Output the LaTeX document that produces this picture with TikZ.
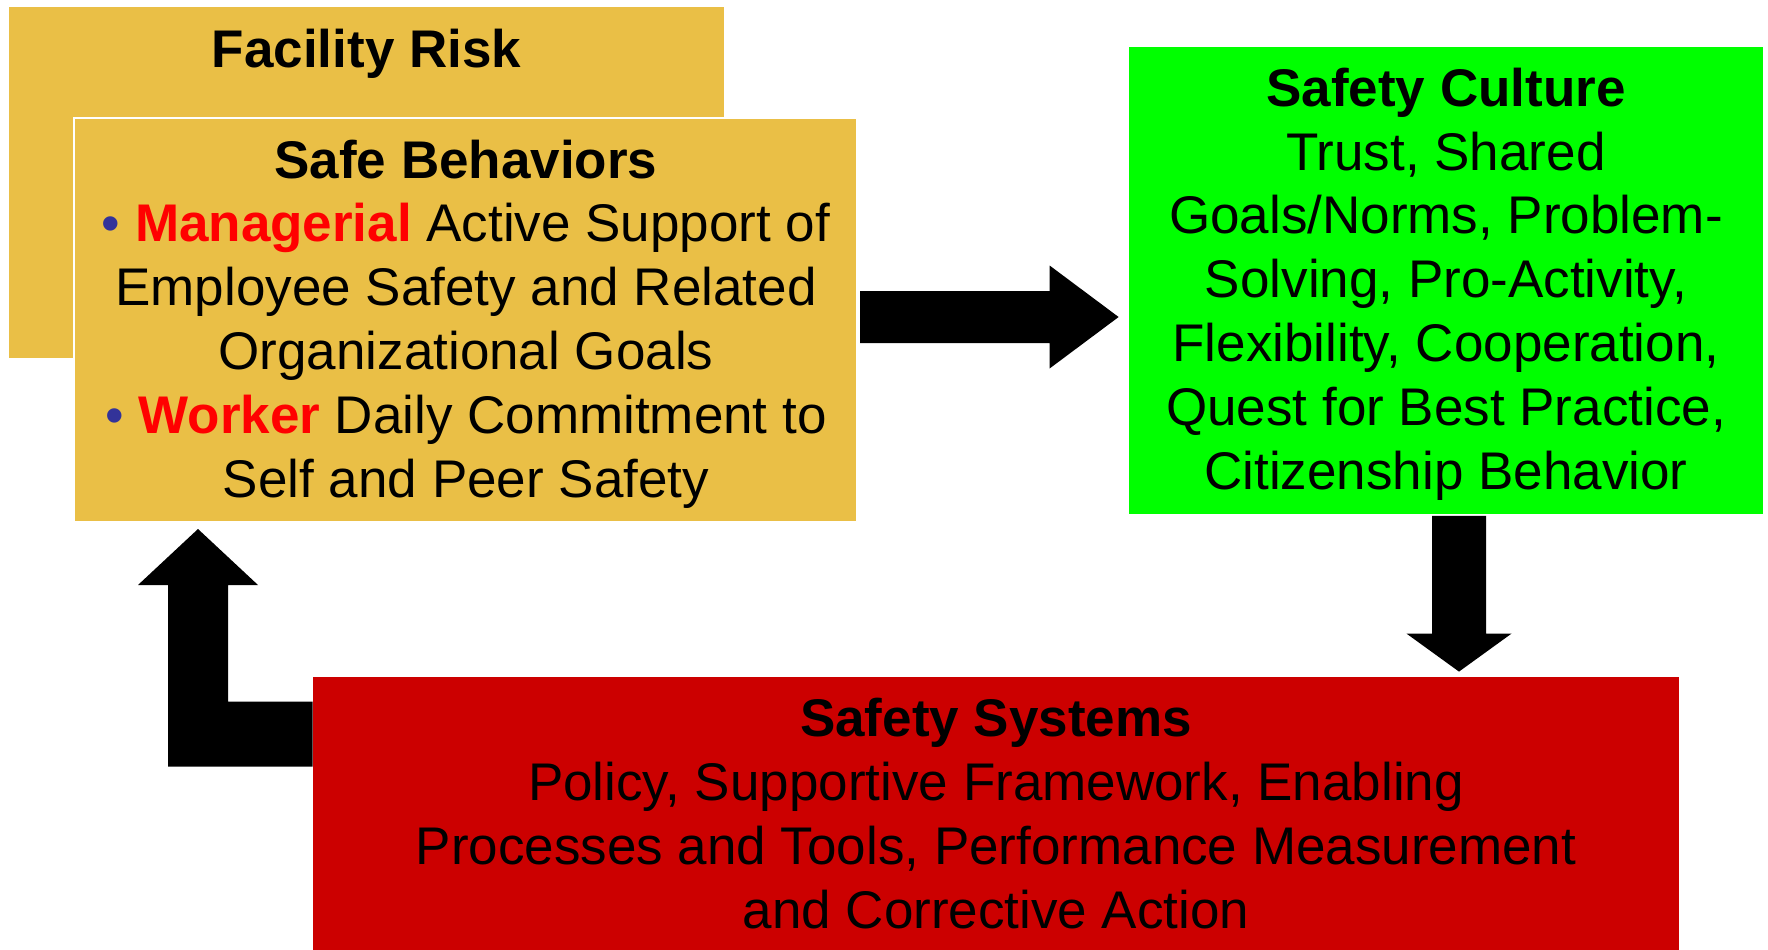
\documentclass[tikz,border=0pt]{standalone}
\usepackage{fontspec}
\setmainfont{Liberation Sans}
\usetikzlibrary{calc}
\definecolor{gold}{HTML}{EABF46}
\definecolor{brightgreen}{HTML}{00FF00}
\definecolor{darkred}{HTML}{CC0000}
\definecolor{bulletblue}{HTML}{333399}
\definecolor{keyred}{HTML}{FF0000}
\tikzset{
  box/.style={rectangle, inner sep=0pt, draw=none},
  txt/.style={font=\fontsize{26.5pt}{31.9pt}\selectfont, align=center, inner sep=0pt, text=black, anchor=base},
  blockarrow/.style={fill=black, draw=none},
}
\newcommand{\bul}{\textcolor{bulletblue}{•}}
\newcommand{\key}[1]{\textcolor{keyred}{\bfseries #1}}
\begin{document}
\begin{tikzpicture}[x=0.5pt, y=-0.5pt]
\useasboundingbox (0,0) rectangle (1768,949);
% boxes
\node[box, fill=gold, minimum width=357.5pt, minimum height=175.5pt] (facility) at (366.5,182.5) {};
\node[box, fill=gold, draw=white, line width=1pt, minimum width=391.5pt, minimum height=202pt] (safe) at (465.5,320) {};
\node[box, fill=brightgreen, minimum width=317pt, minimum height=233.5pt] (culture) at (1446,280) {};
\node[box, fill=darkred, minimum width=683pt, minimum height=138pt] (systems) at (996,815) {};
% texts (anchor = baseline of the last line)
\node[txt] (facilitytext) at (366.5,67) {\bfseries Facility Risk};
\node[txt] (safetext) at (466,497) {\bfseries Safe Behaviors\\
  \bul\ \key{Managerial} Active Support of\\
  Employee Safety and Related\\
  Organizational Goals\\
  \bul\ \key{Worker} Daily Commitment to\\
  Self and Peer Safety};
\node[txt] (culturetext) at (1446,489) {\bfseries Safety Culture\\
  Trust, Shared\\
  Goals/Norms, Problem-\\
  Solving, Pro-Activity,\\
  Flexibility, Cooperation,\\
  Quest for Best Practice,\\
  Citizenship Behavior};
\node[txt] (systemstext) at (996,928) {\bfseries Safety Systems\\
  Policy, Supportive Framework, Enabling\\
  Processes and Tools, Performance Measurement\\
  and Corrective Action};
% right arrow: safe -> culture
\coordinate (ra0) at ($(safe.east)+(1pt,1.5pt)$);
\coordinate (ra1) at ($(ra0 -| culture.west)+(-5pt,0pt)$);
\fill[blockarrow] ($(ra0)+(0pt,13pt)$) -- ($(ra1)+(-34.5pt,13pt)$) -- ($(ra1)+(-34.5pt,25.75pt)$) -- (ra1)
  -- ($(ra1)+(-34.5pt,-25.75pt)$) -- ($(ra1)+(-34.5pt,-13pt)$) -- ($(ra0)+(0pt,-13pt)$) -- cycle;
% down arrow: culture -> systems
\coordinate (da0) at ($(culture.south)+(6.5pt,-1pt)$);
\coordinate (da1) at ($(da0 |- systems.north)+(0pt,2.5pt)$);
\fill[blockarrow] ($(da0)+(-13.5pt,0pt)$) -- ($(da1)+(-13.5pt,19pt)$) -- ($(da1)+(-26.25pt,19pt)$) -- (da1)
  -- ($(da1)+(26.25pt,19pt)$) -- ($(da1)+(13.5pt,19pt)$) -- ($(da0)+(13.5pt,0pt)$) -- cycle;
% L arrow: systems -> safe
\coordinate (la0) at ($(systems.north west)+(0pt,-12.5pt)$);
\coordinate (la1) at ($(safe.south west)+(62.5pt,-3pt)$);
\fill[blockarrow] (la0) -- ($(la1 |- la0)+(15pt,0pt)$) -- ($(la1)+(15pt,-28pt)$) -- ($(la1)+(30pt,-28pt)$) -- (la1)
  -- ($(la1)+(-30pt,-28pt)$) -- ($(la1)+(-15pt,-28pt)$) -- ($(la1 |- la0)+(-15pt,-32.5pt)$)
  -- ($(la0)+(0pt,-32.5pt)$) -- cycle;
\end{tikzpicture}
\end{document}
